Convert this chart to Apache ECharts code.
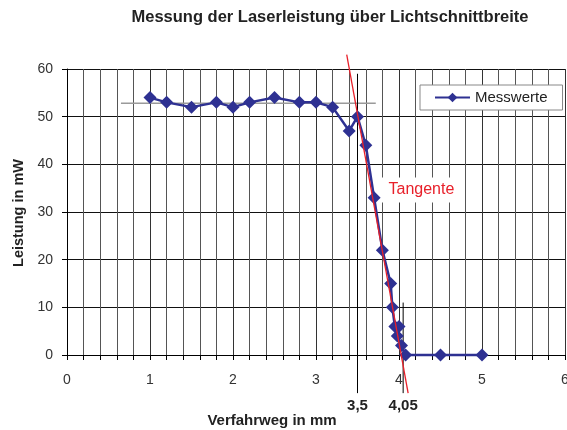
<!DOCTYPE html>
<html>
<head>
<meta charset="utf-8">
<script src="https://cdn.jsdelivr.net/npm/echarts@6/dist/echarts.min.js"></script>
<style>
  html, body { margin: 0; padding: 0; background: #fff; overflow: hidden; }
  #chart { width: 567px; height: 430px; }
</style>
</head>
<body>
<div id="chart"></div>
<script>
// Measured laser power (mW) against travel distance (mm)
const travel = [1.0, 1.2, 1.5, 1.8, 2.0, 2.2, 2.5, 2.8, 3.0, 3.2, 3.4, 3.5, 3.6, 3.7, 3.8, 3.9, 3.92, 3.95, 4.0, 3.98, 4.03, 4.08, 4.5, 5.0];
const power  = [54, 53, 52, 53, 52, 53, 54, 53, 53, 52, 47, 50, 44, 33, 22, 15, 10, 6, 6, 4, 2, 0, 0, 0];

// Tangent through the steep flank
const tangentX = [3.37, 4.11];
const tangentY = [63, -8];

// Plateau level reference
const plateauX = [0.65, 3.72];
const plateauY = [52.8, 52.8];

// Marker lines at the flank limits
const markA = { label: '3,5',  x: 3.5,  top: 59, bottom: -8 };
const markB = { label: '4,05', x: 4.05, top: 11, bottom: -8 };

const xTicks = [0, 1, 2, 3, 4, 5, 6];
const yTicks = [0, 10, 20, 30, 40, 50, 60];

const FONT = 'Liberation Sans, Arial, sans-serif';

const pair = (xs, ys) => xs.map((x, i) => [x, ys[i]]);

function markerLine(m) {
  return {
    type: 'line',
    data: [[m.x, m.top], [m.x, m.bottom]],
    clip: false,
    symbol: 'circle', symbolSize: 0.1, showSymbol: true,
    itemStyle: { color: 'rgba(0,0,0,0)' },
    silent: true,
    z: 3,
    lineStyle: { color: '#000', width: 1 },
    label: {
      show: true,
      position: 'bottom',
      distance: 5,
      formatter: (p) => (p.dataIndex === 1 ? m.label : ''),
      fontFamily: FONT, fontSize: 15, fontWeight: 'bold', color: '#222'
    }
  };
}

const chart = echarts.init(document.getElementById('chart'), null, { renderer: 'canvas', width: 567, height: 430 });

chart.setOption({
  animation: false,
  backgroundColor: '#fff',
  textStyle: { fontFamily: FONT },
  grid: { left: 67, right: 2, top: 69, bottom: 75, containLabel: false, outerBoundsMode: 'none' },
  legend: {
    data: ['Messwerte'],
    left: 420, top: 85,
    padding: [5, 15, 5, 14],
    backgroundColor: '#fff',
    borderColor: '#888', borderWidth: 1,
    itemWidth: 35, itemHeight: 12, itemGap: 6,
    textStyle: { fontFamily: FONT, fontSize: 15, color: '#222' }
  },
  xAxis: {
    type: 'value',
    min: xTicks[0], max: xTicks[xTicks.length - 1], interval: 1,
    axisLine: { show: true, onZero: false, lineStyle: { color: '#000', width: 1 } },
    axisTick: { show: true, length: 5, lineStyle: { color: '#000' } },
    minorTick: { show: true, splitNumber: 5, length: 5, lineStyle: { color: '#000' } },
    axisLabel: { margin: 18, fontFamily: FONT, fontSize: 14, color: '#333' },
    splitLine: { show: true, lineStyle: { color: '#333', width: 1 } },
    minorSplitLine: { show: true, lineStyle: { color: '#555', width: 1 } }
  },
  yAxis: {
    type: 'value',
    min: yTicks[0], max: yTicks[yTicks.length - 1], interval: 10,
    axisLine: { show: true, onZero: false, lineStyle: { color: '#000', width: 1 } },
    axisTick: { show: true, length: 5, lineStyle: { color: '#000' } },
    axisLabel: { margin: 14, fontFamily: FONT, fontSize: 14, color: '#333' },
    splitLine: { show: true, lineStyle: { color: '#111', width: 1 } }
  },
  graphic: [
    {
      type: 'text', x: 330, y: 9,
      style: {
        text: 'Messung der Laserleistung über Lichtschnittbreite',
        font: 'bold 16.5px ' + FONT, fill: '#222', align: 'center', textAlign: 'center'
      }
    },
    {
      type: 'text', x: 272, y: 413,
      style: {
        text: 'Verfahrweg in mm',
        font: 'bold 15px ' + FONT, fill: '#222', align: 'center', textAlign: 'center'
      }
    },
    {
      type: 'text', x: 19, y: 213, rotation: Math.PI / 2,
      style: {
        text: 'Leistung in mW',
        font: 'bold 14.5px ' + FONT, fill: '#222',
        align: 'center', textAlign: 'center',
        verticalAlign: 'middle', textVerticalAlign: 'middle'
      }
    }
  ],
  series: [
    {
      name: 'plateau',
      type: 'line',
      data: pair(plateauX, plateauY),
      symbol: 'none', silent: true, z: 2,
      lineStyle: { color: '#9a9a9a', width: 1.5 }
    },
    markerLine(markA),
    markerLine(markB),
    {
      name: 'Messwerte',
      type: 'line',
      data: pair(travel, power),
      symbol: 'diamond', symbolSize: 13,
      clip: false, z: 5,
      itemStyle: { color: '#2e3192' },
      lineStyle: { color: '#2e3192', width: 2.5 }
    },
    {
      name: 'Tangente',
      type: 'line',
      data: pair(tangentX, tangentY),
      symbol: 'none', clip: false, silent: true, z: 6,
      lineStyle: { color: '#e8202a', width: 1.3 },
      markPoint: {
        symbol: 'rect', symbolSize: [84, 25],
        itemStyle: { color: '#fff' },
        data: [{ coord: [4.27, 34.6] }],
        label: {
          show: true, formatter: 'Tangente', position: 'inside',
          fontFamily: FONT, fontSize: 16, color: '#e8202a'
        }
      }
    }
  ]
});
</script>
</body>
</html>
